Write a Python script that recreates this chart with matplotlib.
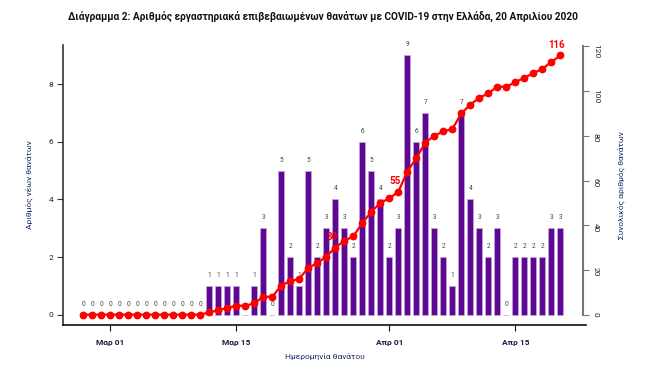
import numpy as np
import pandas as pd
import matplotlib
matplotlib.use("Agg")
import matplotlib.pyplot as plt
import matplotlib.dates as mdates

# ---- data ----
dates = pd.date_range("2020-02-27", "2020-04-20", freq="D")
daily = [0, 0, 0, 0, 0, 0, 0, 0, 0, 0, 0, 0, 0, 0,
         1, 1, 1, 1, np.nan, 1, 3, 0, 5, 2, 1, 5, 2, 3, 4, 3, 2, 6, 5, 4, 2, 3,
         9, 6, 7, 3, 2, 1, 7, 4, 3, 2, 3, 0, 2, 2, 2, 2, 3, 3]
cumulative = [0, 0, 0, 0, 0, 0, 0, 0, 0, 0, 0, 0, 0, 0,
              1, 2, 3, 4, 4, 5, 8, 8, 13, 15, 16, 21, 23, 26, 30, 33, 35, 41, 46, 50, 52, 55,
              64, 70, 77, 80, 82, 83, 90, 94, 97, 99, 102, 102, 104, 106, 108, 110, 113, 116]
highlight = [30, 55, 116]
tick_dates = ["2020-03-01", "2020-03-15", "2020-04-01", "2020-04-15"]
tick_labels = ["Μαρ 01", "Μαρ 15", "Απρ 01", "Απρ 15"]

title = "Διάγραμμα 2: Αριθμός εργαστηριακά επιβεβαιωμένων θανάτων με COVID-19 στην Ελλάδα, 20 Απριλίου 2020"

plt.rcParams['font.family'] = ['Roboto', 'DejaVu Sans']

x = mdates.date2num(dates)
daily_arr = np.array(daily, dtype=float)
bar_vals = np.nan_to_num(daily_arr)

fig = plt.figure(figsize=(6.47, 3.68), dpi=100)
ax = fig.add_axes([63/647, 1-325/368, (586-63)/647, (325-45)/368])

bar_color = "#5c0890"
ax.bar(x, bar_vals, width=0.68, color=bar_color, edgecolor="#c8a6e0", linewidth=0.5, zorder=2)
for xi, v in zip(x, daily_arr):
    if np.isnan(v):
        continue
    ax.annotate(f"{int(v)}", (xi, v), xytext=(0, 5), textcoords="offset points",
                ha="center", va="bottom", fontsize=4.7, color="#444444")

ax.set_xlim(x[0] - 2.25, x[-1] + 2.85)
ax.set_ylim(-0.36, 9.36)
ax.set_yticks([0, 2, 4, 6, 8])
ax.tick_params(axis="y", labelsize=6, length=4, color="#333333", labelcolor="#222222", pad=3)
ax.set_xticks(mdates.date2num(pd.to_datetime(tick_dates)))
ax.set_xticklabels(tick_labels)
ax.tick_params(axis="x", labelsize=6, length=4, color="#111111", labelcolor="#1a1a40", pad=6)
for lab in ax.get_xticklabels():
    lab.set_fontweight("bold")
ax.spines["top"].set_visible(False)
ax.spines["right"].set_visible(False)
ax.spines["left"].set_color("#333333")
ax.spines["left"].set_linewidth(1.2)
ax.spines["bottom"].set_color("#111111")
ax.spines["bottom"].set_linewidth(1.2)
ax.set_ylabel("Αριθμός νέων θανάτων", fontsize=6, color="#1a2a6a", labelpad=11)
ax.set_xlabel("Ημερομηνία θανάτου", fontsize=6, color="#1a2a6a", labelpad=5)

ax2 = ax.twinx()
ax2.set_ylim(-4.64, 120.64)
ax2.plot(x, cumulative, color="red", lw=1.6, marker="o", markersize=4.6, zorder=5)
shown = set()
for xi, c in zip(x, cumulative):
    if c in highlight and c not in shown:
        shown.add(c)
        ax2.annotate(f"{c}", (xi, c), xytext=(-2.5, 4), textcoords="offset points",
                     ha="center", va="bottom", fontsize=7, fontweight="bold", color="red",
                     zorder=6)
ax2.set_yticks([0, 20, 40, 60, 80, 100, 120])
ax2.tick_params(axis="y", labelsize=6, length=4, color="#777777", labelcolor="#222222",
                labelrotation=-90, pad=3)
for lab in ax2.get_yticklabels():
    lab.set_va("center")
ax2.spines["top"].set_visible(False)
ax2.spines["left"].set_visible(False)
ax2.spines["bottom"].set_visible(False)
ax2.spines["right"].set_color("#777777")
ax2.spines["right"].set_linewidth(1.5)
ax2.spines["right"].set_bounds(0, 120)
ax2.spines["right"].set_position(("outward", -2))
ax2.set_ylabel("Συνολικός αριθμός θανάτων", fontsize=6, color="#1a2a6a", rotation=90, labelpad=13.5)
ax2.yaxis.set_label_position("right")

fig.text(0.5, 1-16/368, title, ha="center", va="center", fontsize=7.3, fontweight="bold", color="#111111")

fig.savefig("out.png", dpi=100)
